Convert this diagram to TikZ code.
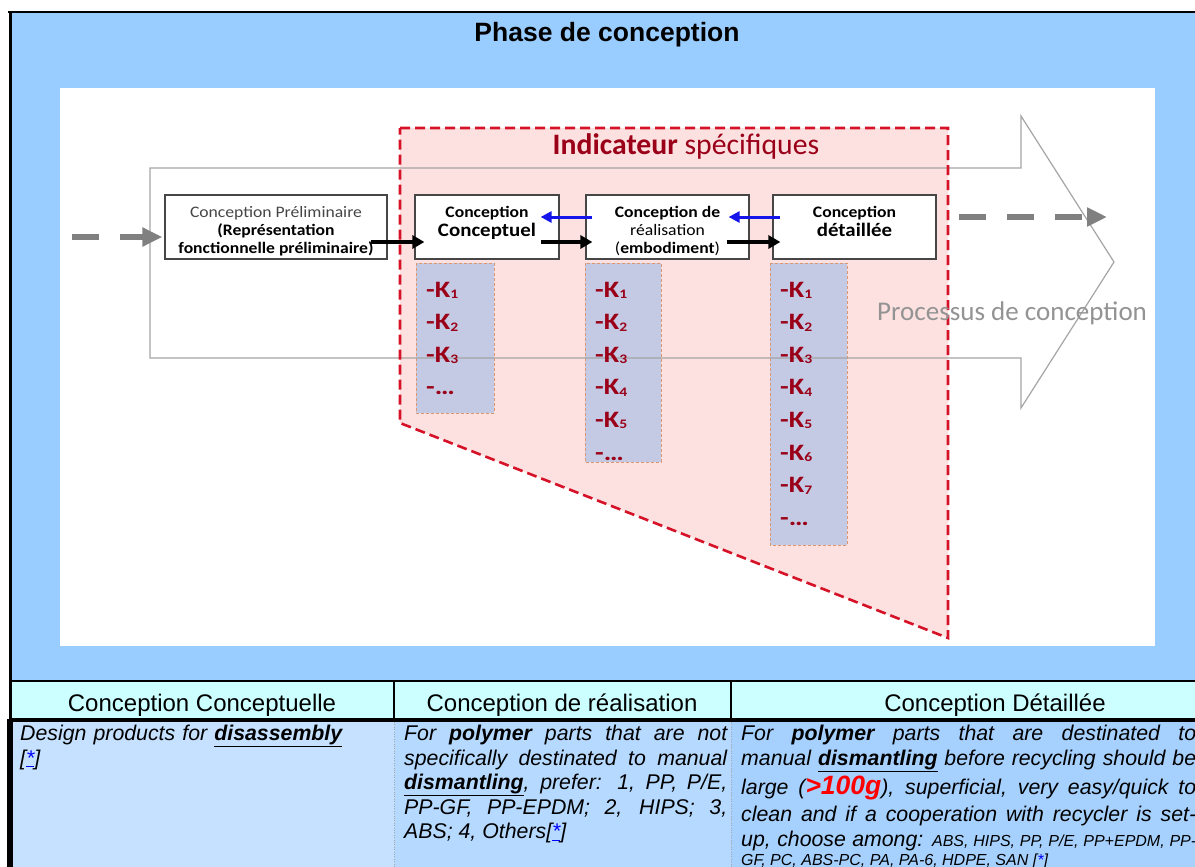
\documentclass[tikz,border=0pt]{standalone}
\usepackage{graphicx}
\usepackage{fontspec}
\setmainfont{Liberation Sans}
\newfontfamily\calibri{Carlito}
\usetikzlibrary{arrows.meta,positioning,calc}

\definecolor{bluebg}{RGB}{153,204,255}
\definecolor{headbg}{RGB}{204,255,255}
\definecolor{cellone}{RGB}{197,225,255}
\definecolor{celltwo}{RGB}{182,217,255}
\definecolor{cellthree}{RGB}{166,209,255}
\definecolor{pinkzone}{RGB}{252,225,224}
\definecolor{zonered}{RGB}{214,18,40}
\definecolor{kred}{RGB}{155,0,25}
\definecolor{kfill}{RGB}{196,202,228}
\definecolor{kline}{RGB}{222,150,110}
\definecolor{flowgray}{RGB}{128,128,128}
\definecolor{shapegray}{RGB}{165,165,165}
\definecolor{linkblue}{RGB}{20,20,235}
\definecolor{darkbox}{RGB}{70,70,70}

\tikzset{
  phasebox/.style={draw=darkbox, line width=1.2pt, fill=white, inner sep=0pt},
  boxtxt/.style={font=\calibri\fontsize{16}{18}\selectfont, align=center, inner sep=0pt},
  kitem/.style={font=\calibri\bfseries\fontsize{23.5}{24}\selectfont, text=kred, anchor=base west, inner sep=0pt},
  kcol/.style={draw=kline, line width=1pt, dash pattern=on 3pt off 2pt, fill=kfill},
  fwd/.style={-{Triangle[length=12pt,width=13pt]}, line width=4pt},
  back/.style={-{Triangle[length=11pt,width=11pt]}, line width=3pt, linkblue},
  flow/.style={-{Triangle[length=20pt,width=18pt]}, line width=6pt, flowgray, dash pattern=on 27pt off 21pt},
  headtxt/.style={font=\fontsize{24}{28}\selectfont, inner sep=0pt},
  celltxt/.style={font=\itshape\fontsize{21.3}{24.5}\selectfont, inner sep=0pt, anchor=north west, align=justify},
}

\newcommand\widen[2][1.1]{\scalebox{#1}[1]{#2}}
\newcommand\ksub[1]{\raisebox{-1.5pt}{\fontsize{13}{13}\selectfont#1}}
\newcommand\refmark{[\textcolor{blue}{\underline{*}}]}
\newcommand\keyword[1]{\underline{\textbf{#1}}}

\begin{document}
\begin{tikzpicture}[x=1pt,y=-1pt]
\useasboundingbox (0,0) rectangle (1195,867);
\fill[bluebg] (9,12) rectangle (1195,681);
\fill[white] (60,88) rectangle (1155,646);
\node[font=\bfseries\fontsize{26.5}{30}\selectfont, anchor=base] (title) at (607,42) {Phase de conception};

\fill[pinkzone] (400,128) -- (948,128) -- (948,638) -- (400,423) -- cycle;
\draw[kcol] (416,263) rectangle (494,413);
\draw[kcol] (585,263) rectangle (661,462);
\draw[kcol] (770,263) rectangle (847,545);
\draw[shapegray, line width=1.2pt] (150,168) -- (1021,168) -- (1021,116) -- (1114,262) -- (1021,408) -- (1021,358) -- (150,358) -- cycle;
\draw[zonered, line width=2.6pt, dash pattern=on 10pt off 5pt] (400,128) -- (948,128) -- (948,638) -- (400,423) -- cycle;
\node[font=\calibri\fontsize{29.7}{32}\selectfont, text=kred, anchor=base] (zonetitle) at (686,154) {\textbf{Indicateur} spécifiques};
\node[font=\calibri\fontsize{27}{28}\selectfont, text=flowgray!85, anchor=base west, inner sep=0pt] (process) at (877,320) {Processus de conception};

\node[phasebox, minimum width=222pt, minimum height=64pt] (prelim) at (276,227) {};
\node[phasebox, minimum width=144pt, minimum height=64pt] (concept) at (487,227) {};
\node[phasebox, minimum width=163pt, minimum height=64pt] (real) at (667.5,227) {};
\node[phasebox, minimum width=163pt, minimum height=64pt] (detail) at (854.5,227) {};
\node[boxtxt, below=12pt of prelim.north] (prelimtxt) {\widen{\textcolor{darkbox}{Conception Préliminaire}}\\\widen{\textbf{(Représentation}}\\\widen{\textbf{fonctionnelle préliminaire)}}};
\node[boxtxt, below=12pt of concept.north] (concepttxt) {\widen{\textbf{Conception}}\\[1pt]{\fontsize{19}{19}\selectfont\widen{\textbf{Conceptuel}}}};
\node[boxtxt, below=12pt of real.north] (realtxt) {\widen{\textbf{Conception de}}\\\widen{réalisation}\\\widen{(\textbf{embodiment})}};
\node[boxtxt, below=12pt of detail.north] (detailtxt) {\widen{\textbf{Conception}}\\[1pt]{\fontsize{19}{19}\selectfont\widen{\textbf{détaillée}}}};

\draw[fwd] ($(prelim.east)+(-17,15)$) -- ($(concept.west)+(10,15)$);
\draw[fwd] ($(concept.east)+(-19,15)$) -- ($(real.west)+(7,15)$);
\draw[fwd] ($(real.east)+(-23,15)$) -- ($(detail.west)+(8,15)$);
\draw[back] ($(real.west)+(7,-10)$) -- ($(concept.east)+(-19,-10)$);
\draw[back] ($(detail.west)+(8,-10)$) -- ($(real.east)+(-21,-10)$);
\coordinate (entry) at (72,237);
\coordinate (exit) at (1107,217);
\draw[flow] (entry) -- ($(prelim.west)+(-2,10)$);
\draw[flow] ($(detail.east)+(22,-10)$) -- (exit);

\foreach \col/\x/\last in {1/426/3, 2/595/5, 3/780/7}{
  \foreach \k in {1,...,\last}
    \node[kitem] (k\col-\k) at (\x,{297+32.6*(\k-1)}) {\widen[1.2]{-K\ksub{\k}}};
  \node[kitem] (k\col-more) at (\x,{297+32.6*\last}) {\widen[1.2]{-…}};
}

\fill[headbg] (9,681) rectangle (1195,719);
\fill[cellone] (9,719) rectangle (394,867);
\fill[celltwo] (394,719) rectangle (731,867);
\fill[cellthree] (731,719) rectangle (1195,867);
\draw[line width=2pt] (8,12) -- (1195,12);
\draw[line width=3pt] (10,11) -- (10,719);
\draw[line width=5.5pt] (10,719) -- (10,867);
\draw[line width=2pt] (9,681) -- (1195,681);
\draw[line width=2.5pt] (394,681) -- (394,719);
\draw[line width=2.5pt] (731,681) -- (731,719);
\draw[line width=4pt] (9,719.5) -- (1195,719.5);
\draw[gray!70, dotted] (394,722) -- (394,867);
\draw[gray!70, dotted] (731,722) -- (731,867);

\node[headtxt, anchor=base] (headone) at (202,711) {Conception Conceptuelle};
\node[headtxt, anchor=base] (headtwo) at (562,711) {Conception de réalisation};
\node[headtxt, anchor=base] (headthree) at (995,711) {Conception Détaillée};

\node[celltxt, align=left, text width=365pt] (tipone) at (20,725) {Design products for \keyword{disassembly}\\\refmark};
\node[celltxt, text width=323pt] (tiptwo) at (404,725) {For \textbf{polymer} parts that are not\linebreak specifically destinated to manual\linebreak \keyword{dismantling}, prefer: 1, PP, P/E,\linebreak PP-GF, PP-EPDM; 2, HIPS; 3,\linebreak ABS; 4, Others\refmark};
\node[celltxt, text width=455pt] (tipthree) at (741,725) {For \textbf{polymer} parts that are destinated to\linebreak manual \keyword{dismantling} before recycling should be\vadjust{\kern3pt}\linebreak large ({\bfseries\fontsize{26.5}{24.5}\selectfont\textcolor{red}{>100g}}), superficial, very easy/quick to\vadjust{\kern3pt}\linebreak clean and if a cooperation with recycler is set-\linebreak up, choose among: {\fontsize{16}{24.5}\selectfont ABS, HIPS, PP, P/E, PP+EPDM, PP-\vadjust{\kern-5pt}\linebreak GF, PC, ABS-PC, PA, PA-6, HDPE, SAN \refmark}};
\end{tikzpicture}
\end{document}
